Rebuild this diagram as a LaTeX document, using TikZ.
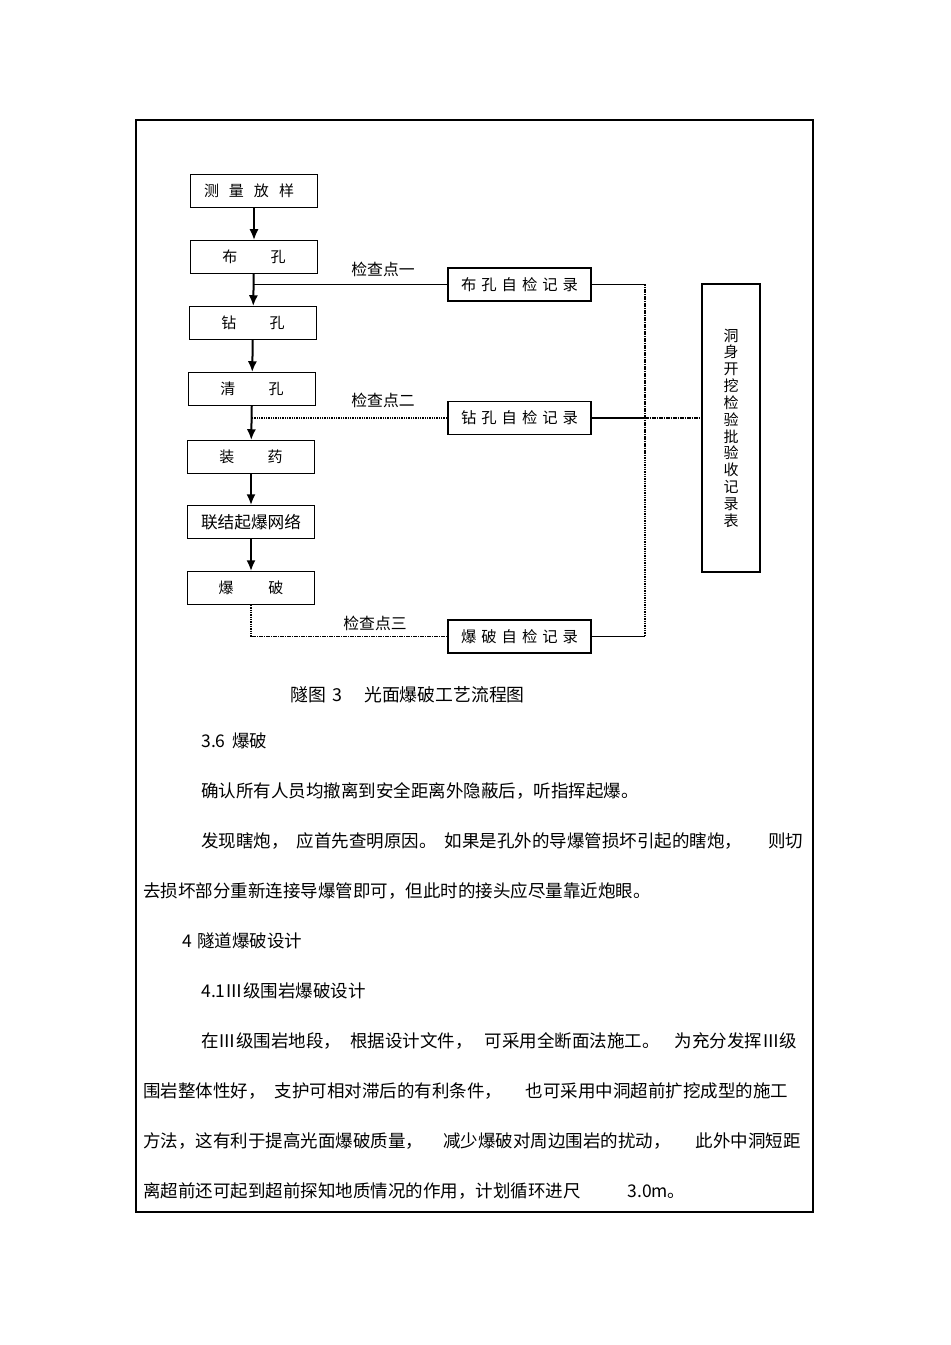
\documentclass[tikz,border=0pt]{standalone}
\usepackage{fontspec}
\setmainfont{Noto Sans CJK SC}
\usetikzlibrary{arrows.meta}

\begin{document}
\begin{tikzpicture}[x=0.6pt, y=-0.6pt,
    stepbox/.style={draw, line width=0.8pt, minimum width=76pt, minimum height=19.5pt, inner sep=0pt, font=\fontsize{9}{9}\selectfont},
    recbox/.style={draw, line width=0.9pt, minimum width=86pt, minimum height=20pt, inner sep=0pt, font=\fontsize{9.2}{9.2}\selectfont},
    flow/.style={line width=1.2pt, -{Latex[length=6.5pt,width=5.5pt]}},
    dotline/.style={line width=1pt, dash pattern=on 0.9pt off 0.5pt},
    chk/.style={inner sep=0pt, font=\fontsize{9.5}{9.5}\selectfont},
    para/.style={anchor=west, inner sep=0pt, font=\fontsize{10.5}{10.5}\selectfont}]

  \useasboundingbox (0,0) rectangle (950,1345);
  \draw[line width=0.7pt] (136,120) rectangle (813,1212);

  % process steps
  \node[stepbox] (celiang) at (254,191) {\hspace{-6pt}测\hspace{6pt}量\hspace{6pt}放\hspace{6pt}样};
  \node[stepbox] (bukong) at (254,257) {布\hspace{20pt}孔};
  \node[stepbox] (zuankong) at (253,323) {钻\hspace{20pt}孔};
  \node[stepbox] (qingkong) at (252,389) {清\hspace{20pt}孔};
  \node[stepbox] (zhuangyao) at (251,457) {装\hspace{20pt}药};
  \node[stepbox, font=\fontsize{10}{10}\selectfont] (lianjie) at (251,522) {联结起爆网络};
  \node[stepbox] (baopo) at (251,588) {爆\hspace{21pt}破};

  % self-check records
  \node[recbox] (rec1) at (519.5,284.5) {布\hspace{3pt}孔\hspace{3pt}自\hspace{3pt}检\hspace{3pt}记\hspace{3pt}录};
  \node[recbox] (rec2) at (519.5,418) {钻\hspace{3pt}孔\hspace{3pt}自\hspace{3pt}检\hspace{3pt}记\hspace{3pt}录};
  \node[recbox] (rec3) at (519.5,636.5) {爆\hspace{3pt}破\hspace{3pt}自\hspace{3pt}检\hspace{3pt}记\hspace{3pt}录};

  % acceptance record
  \node[draw, line width=0.9pt, minimum width=34.8pt, minimum height=172.8pt, inner sep=0pt,
        align=center, font=\fontsize{9}{10.1}\selectfont] (biao) at (731,428)
    {洞\\身\\开\\挖\\检\\验\\批\\验\\收\\记\\录\\表};
  \coordinate (bus) at (645,284);

  \draw[flow] (celiang) -- (bukong);
  \draw[flow] (bukong) -- (zuankong);
  \draw[flow] (zuankong) -- (qingkong);
  \draw[flow] (qingkong) -- (zhuangyao);
  \draw[flow] (zhuangyao) -- (lianjie);
  \draw[flow] (lianjie) -- (baopo);

  % check points
  \draw[line width=0.6pt] (rec1.west) -- (rec1.west -| bukong.south);
  \draw[dotline] (rec2.west) -- (rec2.west -| qingkong.south);
  \draw[dotline] (baopo.south) |- (rec3.west);
  \node[chk] (chk1) at (383,269) {检查点一};
  \node[chk] (chk2) at (383,400) {检查点二};
  \node[chk] (chk3) at (375,623) {检查点三};

  \draw[line width=0.6pt] (rec1.east) -- (rec1.east -| bus);
  \draw[line width=1.1pt] (rec2.east) -- (rec2.east -| bus);
  \draw[line width=0.7pt] (rec3.east) -- (rec3.east -| bus);
  \draw[dotline] (rec1.east -| bus) -- (rec3.east -| bus);
  \draw[dotline] (rec2.east -| bus) -- (rec2.east -| biao.west);

  % caption and text
  \node[para, font=\fontsize{10.7}{10.7}\selectfont] (caption) at (290,695) {隧图\hspace{4pt}3\hspace{13pt}光面爆破工艺流程图};
  \node[para] (p1) at (201,741) {3.6\hspace{4pt}爆破};
  \node[para] (p2) at (201,791) {确认所有人员均撤离到安全距离外隐蔽后，听指挥起爆。};
  \node[para] (p3) at (201,841) {发现瞎炮，\hspace{4.8pt}应首先查明原因。\hspace{4.8pt}如果是孔外的导爆管损坏引起的瞎炮，\hspace{15.6pt}则切};
  \node[para] (p4) at (143,891) {去损坏部分重新连接导爆管即可，但此时的接头应尽量靠近炮眼。};
  \node[para] (p5) at (182,941) {4\hspace{3pt}隧道爆破设计};
  \node[para] (p6) at (201,991) {4.1Ⅲ级围岩爆破设计};
  \node[para] (p7) at (201,1041) {在Ⅲ级围岩地段，\hspace{5.4pt}根据设计文件，\hspace{7.2pt}可采用全断面法施工。\hspace{9pt}为充分发挥Ⅲ级};
  \node[para] (p8) at (143,1091) {围岩整体性好，\hspace{5.4pt}支护可相对滞后的有利条件，\hspace{14.1pt}也可采用中洞超前扩挖成型的施工};
  \node[para] (p9) at (143,1141) {方法，这有利于提高光面爆破质量，\hspace{12pt}减少爆破对周边围岩的扰动，\hspace{15pt}此外中洞短距};
  \node[para] (p10) at (143,1191) {离超前还可起到超前探知地质情况的作用，计划循环进尺\hspace{28pt}3.0m。};
\end{tikzpicture}
\end{document}
